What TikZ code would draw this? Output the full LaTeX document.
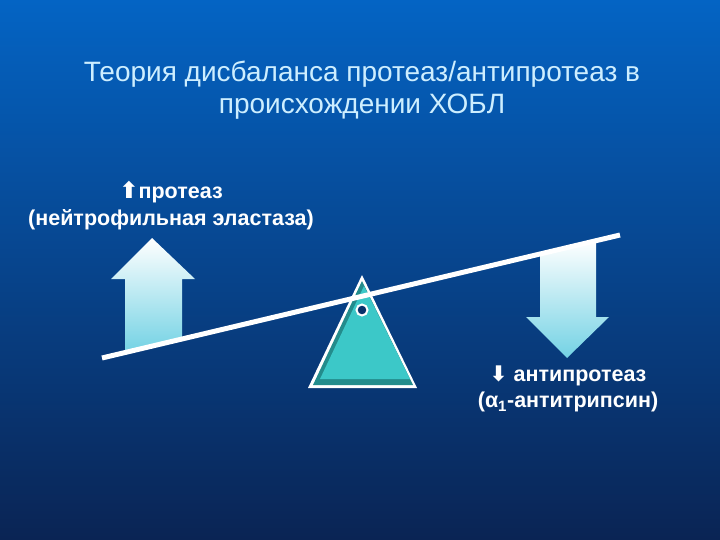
\documentclass[tikz,border=0pt]{standalone}
\usepackage{fontspec}
\setmainfont{Liberation Sans}
\newfontfamily\symfont{DejaVu Sans}
\definecolor{bgtop}{RGB}{4,100,196}
\definecolor{bgbot}{RGB}{10,36,84}
\definecolor{titlec}{RGB}{205,238,255}
\definecolor{arrcyan}{RGB}{115,210,228}
\definecolor{turq}{RGB}{60,200,200}
\definecolor{turqdark}{RGB}{35,140,140}
\tikzset{
  bigarrow/.style={top color=white, bottom color=arrcyan, draw=none},
  lbl/.style={text=white, font=\bfseries\fontsize{21.5}{26.5}\selectfont, align=center},
}
\begin{document}
\begin{tikzpicture}[x=1pt,y=-1pt]
\useasboundingbox (0,0) rectangle (720,540);
\shade[top color=bgtop, bottom color=bgbot] (0,0) rectangle (720,540);
% title
\node[text=titlec, font=\fontsize{28}{32}\selectfont, align=center] (title) at (362,90)
  {Теория дисбаланса протеаз/антипротеаз в\\происхождении ХОБЛ};
% arrows
\shade[bigarrow] (125,352.5) -- (125,279) -- (111,279) -- (152,238) -- (195,279) -- (182,279) -- (182,339) -- cycle;
\shade[bigarrow] (540,254) -- (540,317) -- (526,317) -- (567,358) -- (609,317) -- (596,317) -- (596,240.5) -- cycle;
% fulcrum
\coordinate (A) at (362,275);
\coordinate (BL) at (308,388);
\coordinate (BR) at (417,388);
\fill[white] (A) -- (BL) -- (BR) -- cycle;
\fill[turqdark] (362,281) -- (313,385) -- (413,385) -- cycle;
\fill[turq] (364,286) -- (320,379) -- (410,379) -- cycle;
% lever
\coordinate (L) at (102,358);
\coordinate (R) at (620,235);
\draw[white, line width=5pt] (L) -- (R);
\node[circle, draw=white, line width=2pt, fill=bgbot!80!bgtop, minimum size=11pt, inner sep=0pt] (pivot) at (362,310) {};
% labels
\node[lbl] (left) at (171,205.5) {{\symfont\fontsize{23}{26.5}\selectfont ⬆}протеаз\\(нейтрофильная эластаза)};
\node[lbl] (right) at (568,389) {{\symfont ⬇} антипротеаз\\(α\textsubscript{1}-антитрипсин)};
\end{tikzpicture}
\end{document}
